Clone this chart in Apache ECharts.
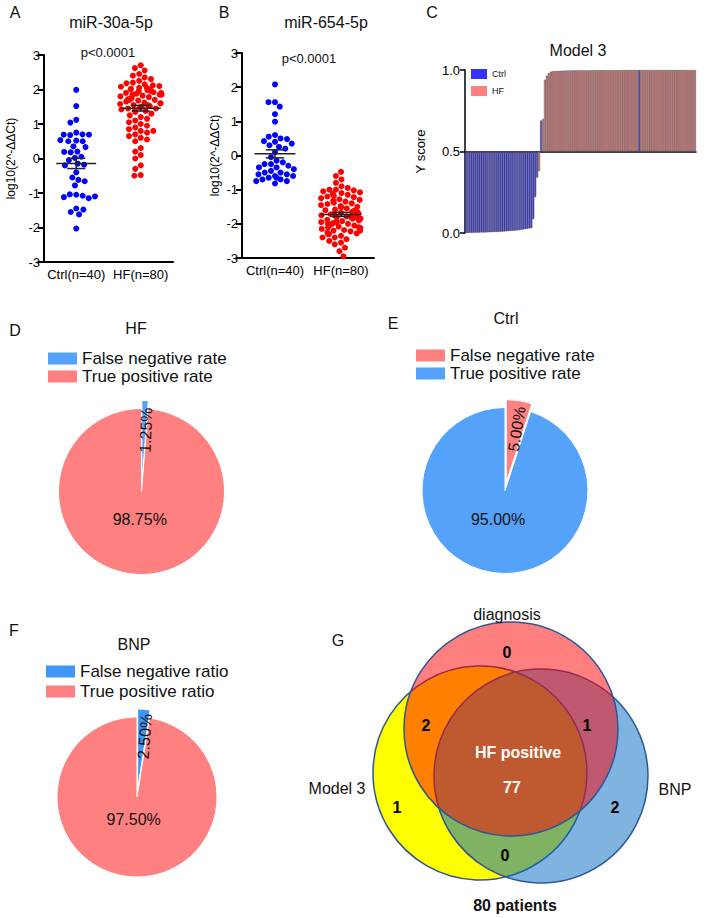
<!DOCTYPE html>
<html>
<head>
<meta charset="utf-8">
<script src="https://cdn.jsdelivr.net/npm/echarts@6/dist/echarts.min.js"></script>
<style>
html, body { margin: 0; padding: 0; background: #fff; }
#main { width: 709px; height: 918px; }
</style>
</head>
<body>
<div id="main"></div>
<script>
var FONT = '"Liberation Sans", Arial, sans-serif';

// ---- panel A / B : dot plots ----
var groups = ['Ctrl(n=40)', 'HF(n=80)'];
var mir30Ctrl = [1.99, 1.52, 1.12, 1.04, 0.75, 0.68, 0.70, 0.69, 0.69, 0.52,
  0.50, 0.50, 0.53, 0.35, 0.33, 0.20, 0.18, 0.19, 0.05, 0.02,
  -0.05, -0.15, -0.18, -0.20, -0.40, -0.55, -0.62, -0.66, -0.78, -1.05,
  -1.04, -1.08, -1.12, -1.15, -1.10, -1.45, -1.55, -1.62, -1.48, -2.03];
var mir30HF = [2.70, 2.62, 2.55, 2.45, 2.40, 2.35, 2.30, 2.25, 2.20, 2.18,
  2.15, 2.12, 2.10, 2.08, 2.05, 2.05, 2.02, 2.00, 1.98, 1.95,
  1.92, 1.90, 1.88, 1.85, 1.85, 1.82, 1.80, 1.78, 1.75, 1.72,
  1.70, 1.68, 1.65, 1.62, 1.60, 1.58, 1.55, 1.52, 1.50, 1.48,
  1.45, 1.45, 1.42, 1.40, 1.38, 1.35, 1.30, 1.25, 1.20, 1.15,
  1.10, 1.05, 1.00, 0.95, 0.90, 0.85, 0.80, 0.75, 0.70, 0.65,
  0.60, 0.55, 0.50, 1.85, 1.75, 1.95, 0.30, 0.20, 0.10, 0.00,
  1.55, -0.20, -0.30, 0.80, 1.60, 1.70, -0.48, -0.50, 1.90, 2.00];
var mir654Ctrl = [2.08, 1.56, 1.56, 1.43, 1.21, 0.99, 0.60, 0.55, 0.50, 0.48,
  0.42, 0.40, 0.35, 0.30, 0.25, 0.20, 0.10, -0.05, -0.15, -0.20,
  -0.25, -0.25, -0.30, -0.35, -0.35, -0.40, -0.45, -0.50, -0.50, -0.55,
  -0.55, -0.60, -0.60, -0.65, -0.65, -0.70, -0.70, -0.75, -0.75, -0.82];
var mir654HF = [-0.48, -0.60, -0.70, -0.80, -0.90, -0.95, -1.00, -1.00, -1.02, -1.05,
  -1.08, -1.10, -1.12, -1.15, -1.18, -1.20, -1.22, -1.25, -1.28, -1.30,
  -1.32, -1.35, -1.38, -1.40, -1.42, -1.45, -1.48, -1.50, -1.52, -1.55,
  -1.58, -1.60, -1.62, -1.65, -1.68, -1.70, -1.72, -1.75, -1.75, -1.78,
  -1.80, -1.80, -1.82, -1.85, -1.88, -1.90, -1.92, -1.95, -1.98, -2.00,
  -2.02, -2.05, -2.08, -2.10, -2.12, -2.15, -2.18, -2.20, -2.22, -2.25,
  -2.28, -2.30, -2.35, -2.40, -2.45, -2.50, -2.55, -2.60, -2.70, -2.80,
  -2.95, -2.00, -2.10, -2.30, -2.20, -2.40, -1.65, -1.75, -1.85, -1.95];

// ---- panel C : Model 3 Y score, sorted ----
var model3Score = [0.000, 0.000, 0.001, 0.001, 0.001, 0.002, 0.002, 0.002, 0.003, 0.003,
  0.003, 0.004, 0.004, 0.005, 0.005, 0.006, 0.006, 0.007, 0.008, 0.008,
  0.009, 0.010, 0.011, 0.012, 0.013, 0.014, 0.015, 0.016, 0.018, 0.020,
  0.022, 0.024, 0.026, 0.028, 0.030, 0.085, 0.220, 0.340, 0.380, 0.690,
  0.700, 0.940, 0.965, 0.980, 0.990, 0.992, 0.993, 0.994, 0.995, 0.995,
  0.996, 0.996, 0.997, 0.997, 0.997, 0.998, 0.998, 0.998, 0.998, 0.998,
  0.998, 0.998, 0.998, 0.998, 0.998, 0.999, 0.999, 0.999, 0.999, 0.999,
  0.999, 0.999, 0.999, 0.999, 0.999, 0.999, 0.999, 0.999, 0.999, 0.999,
  1.000, 1.000, 1.000, 1.000, 1.000, 1.000, 1.000, 1.000, 1.000, 1.000,
  1.000, 1.000, 1.000, 1.000, 1.000, 1.000, 1.000, 1.000, 1.000, 1.000,
  1.000, 1.000, 1.000, 1.000, 1.000, 1.000, 1.000, 1.000, 1.000, 1.000,
  1.000, 1.000, 1.000, 1.000, 1.000, 1.000, 1.000, 1.000, 1.000, 1.000];
// C = Ctrl sample, H = HF sample, in the same order as model3Score
var model3Group = ('C'.repeat(38) + 'HC' + 'H'.repeat(50) + 'C' + 'H'.repeat(29)).split('');

// ---- panels D / E / F : pies ----
var hfNames = ['False negative rate', 'True positive rate'];
var hfRates = [1.25, 98.75];
var ctrlRates = [5.00, 95.00];
var bnpNames = ['False negative ratio', 'True positive ratio'];
var bnpRates = [2.50, 97.50];

// ---- panel G : Venn ----
var vennSets = ['Model 3', 'BNP', 'diagnosis'];
var vennCx = [120, 181, 151];
var vennCy = [163, 166, 119];
var vennR = [107, 107, 107];
var vennFill = ['rgb(255,255,0)', 'rgba(0,104,194,0.5)', 'rgba(255,0,0,0.5)'];
var vennLabels = ['0', '2', '1', 'HF positive', '77', '1', '2', '0'];
var vennLabelPos = [[147, 42], [66, 115], [227, 115], [158, 142], [152, 177], [37, 197], [255, 197], [145, 245]];
var vennLabelColor = ['#000', '#000', '#000', '#fff', '#fff', '#000', '#000', '#000'];

var blue = '#55a2fb', salmon = '#ff8080';

function meanSem(arr) {
  var n = arr.length, m = 0, s = 0;
  arr.forEach(function (v) { m += v; });
  m /= n;
  arr.forEach(function (v) { s += (v - m) * (v - m); });
  return [m, Math.sqrt(s / (n - 1)) / Math.sqrt(n)];
}

function renderMeanSem(params, api) {
  var x = api.value(0), m = api.value(1), e = api.value(2);
  var c = api.coord([x, m]);
  var hi = api.coord([x, m + e]);
  var lo = api.coord([x, m - e]);
  var band = api.size([1, 0])[0];
  var mw = band * 0.31, cw = band * 0.14;
  var st = { stroke: '#222', lineWidth: 1.5 };
  return {
    type: 'group',
    children: [
      { type: 'line', shape: { x1: c[0] - mw, y1: c[1], x2: c[0] + mw, y2: c[1] }, style: st },
      { type: 'line', shape: { x1: c[0], y1: hi[1], x2: c[0], y2: lo[1] }, style: st },
      { type: 'line', shape: { x1: c[0] - cw, y1: hi[1], x2: c[0] + cw, y2: hi[1] }, style: st },
      { type: 'line', shape: { x1: c[0] - cw, y1: lo[1], x2: c[0] + cw, y2: lo[1] }, style: st }
    ]
  };
}

function dotAxisX(gi) {
  return {
    type: 'category', gridIndex: gi, data: groups,
    jitter: 42, jitterOverlap: false, jitterMargin: 0.5,
    axisLine: { onZero: false, lineStyle: { color: '#000', width: 2 } },
    axisTick: { alignWithLabel: true, length: 6, lineStyle: { color: '#000', width: 2 } },
    axisLabel: { color: '#000', fontSize: 13, fontFamily: FONT, margin: 6, interval: 0 }
  };
}
function dotAxisY(gi, gap) {
  return {
    type: 'value', gridIndex: gi, min: -3, max: 3, interval: 1,
    name: 'log10(2^-ΔΔCt)', nameLocation: 'middle', nameGap: gap,
    nameTextStyle: { color: '#000', fontSize: 12, fontFamily: FONT },
    axisLine: { show: true, onZero: false, lineStyle: { color: '#000', width: 2 } },
    axisTick: { show: true, length: 6, lineStyle: { color: '#000', width: 2 } },
    axisLabel: { color: '#000', fontSize: 13, fontFamily: FONT, margin: 4 },
    splitLine: { show: false }
  };
}
function dotSeries(axis, ctrl, hf) {
  var ms = [meanSem(ctrl), meanSem(hf)];
  return [
    { type: 'scatter', xAxisIndex: axis, yAxisIndex: axis, symbolSize: 6,
      itemStyle: { color: '#0000ff', opacity: 1 }, silent: true,
      data: ctrl.map(function (v) { return [0, v]; }) },
    { type: 'scatter', xAxisIndex: axis, yAxisIndex: axis, symbolSize: 6,
      itemStyle: { color: '#ff0000', opacity: 1 }, silent: true,
      data: hf.map(function (v) { return [1, v]; }) },
    { type: 'custom', xAxisIndex: axis, yAxisIndex: axis, z: 5, silent: true,
      renderItem: renderMeanSem,
      data: [[0, ms[0][0], ms[0][1]], [1, ms[1][0], ms[1][1]]] }
  ];
}

// smallShift: nudge of the thin slice's radial label (in the label's rotated frame)
function pieSeries(center, r, names, rates, colors, smallShift, bigOffset) {
  return {
    type: 'pie', center: center, radius: r, startAngle: 90, clockwise: true,
    selectedMode: 'single', selectedOffset: 8, avoidLabelOverlap: false, silent: true,
    itemStyle: { borderColor: '#fff', borderWidth: 1 },
    labelLine: { show: false },
    label: {
      show: true, position: 'inside', color: '#111', fontSize: 16, fontFamily: FONT,
      formatter: function (p) { return p.value.toFixed(2) + '%'; }
    },
    labelLayout: function (p) {
      return p.dataIndex === 0 ? { dx: smallShift[0], dy: smallShift[1] } : {};
    },
    data: [
      { name: names[0], value: rates[0], selected: true, itemStyle: { color: colors[0] },
        label: { rotate: 'radial' } },
      { name: names[1], value: rates[1], itemStyle: { color: colors[1] },
        label: { rotate: 0, offset: bigOffset } }
    ]
  };
}

function pieLegend(left, top, gap, names, colors) {
  return {
    orient: 'vertical', left: left, top: top, padding: 0, itemWidth: 29, itemHeight: 12, itemGap: gap,
    selectedMode: false, icon: 'rect',
    textStyle: { color: '#111', fontSize: 17, fontFamily: FONT },
    data: [
      { name: names[0], itemStyle: { color: colors[0], borderWidth: 0 } },
      { name: names[1], itemStyle: { color: colors[1], borderWidth: 0 } }
    ]
  };
}

function txt(x, y, s, size, bold, color) {
  return {
    type: 'text', x: x, y: y, silent: true, z: 100,
    style: {
      text: s, fill: color || '#111', align: 'center', verticalAlign: 'middle',
      font: (bold ? 'bold ' : '') + size + 'px ' + FONT
    }
  };
}

var myChart = echarts.init(document.getElementById('main'), null, { renderer: 'svg' });

var option = {
  animation: false,
  backgroundColor: '#fff',
  textStyle: { fontFamily: FONT },
  grid: [
    { left: 44, top: 55, width: 129, height: 207 },
    { left: 242, top: 53, width: 132, height: 205 },
    { left: 465, top: 70, width: 231, height: 163 },
    { left: 360, top: 610, width: 300, height: 300 }
  ],
  xAxis: [
    dotAxisX(0),
    dotAxisX(1),
    { type: 'category', gridIndex: 2, data: model3Score.map(function (v, i) { return i; }),
      axisLine: { onZero: true, lineStyle: { color: '#000', width: 1.5 } },
      axisTick: { show: false }, axisLabel: { show: false } },
    { type: 'value', gridIndex: 3, min: 0, max: 300, show: false }
  ],
  yAxis: [
    dotAxisY(0, 27),
    dotAxisY(1, 21),
    { type: 'value', gridIndex: 2, min: -0.5, max: 0.5, interval: 0.5,
      name: 'Y score', nameLocation: 'middle', nameGap: 38,
      nameTextStyle: { color: '#000', fontSize: 13, fontFamily: FONT },
      axisLine: { show: true, onZero: false, lineStyle: { color: '#000', width: 1.5 } },
      axisTick: { show: true, length: 5, lineStyle: { color: '#000', width: 1.5 } },
      axisLabel: { color: '#000', fontSize: 13, fontFamily: FONT, margin: 5,
        formatter: function (v) { return (v + 0.5).toFixed(1); } },
      splitLine: { show: false } },
    { type: 'value', gridIndex: 3, min: 0, max: 300, inverse: true, show: false }
  ],
  legend: [
    { orient: 'vertical', left: 471, top: 69, padding: 0, itemWidth: 16, itemHeight: 10, itemGap: 7,
      selectedMode: false, icon: 'rect',
      textStyle: { color: '#111', fontSize: 9, fontFamily: FONT },
      data: [{ name: 'Ctrl', itemStyle: { color: '#3333ff', borderWidth: 0 } },
             { name: 'HF', itemStyle: { color: '#ff8080', borderWidth: 0 } }] },
    pieLegend(48, 350, 1, hfNames, [blue, salmon]),
    pieLegend(416, 347, 1, hfNames, [salmon, blue]),
    pieLegend(46, 663, 3, bnpNames, ['#3f96f6', salmon])
  ],
  series: [].concat(
    dotSeries(0, mir30Ctrl, mir30HF),
    dotSeries(1, mir654Ctrl, mir654HF),
    [
      { name: 'Ctrl', type: 'bar', xAxisIndex: 2, yAxisIndex: 2, barGap: '-100%', barCategoryGap: '0%',
        silent: true,
        itemStyle: { color: '#2a2aff', borderColor: '#555', borderWidth: 0.6 },
        data: model3Score.map(function (v, i) { return model3Group[i] === 'C' ? v - 0.5 : '-'; }) },
      { name: 'HF', type: 'bar', xAxisIndex: 2, yAxisIndex: 2, barCategoryGap: '0%',
        silent: true,
        itemStyle: { color: '#ff7878', borderColor: '#555', borderWidth: 0.6 },
        data: model3Score.map(function (v, i) { return model3Group[i] === 'H' ? v - 0.5 : '-'; }) },
      pieSeries([141.5, 491.5], 83, hfNames, hfRates, [blue, salmon], [9, 2], [0, -16]),
      pieSeries([505, 490.5], 83, hfNames, ctrlRates, [salmon, blue], [10, 2], [0, -15]),
      pieSeries([137, 797], 80, bnpNames, bnpRates, ['#3f96f6', salmon], [10, 3], [0, -20]),
      { type: 'custom', xAxisIndex: 3, yAxisIndex: 3, silent: true,
        renderItem: function (params, api) {
          var c = api.coord([api.value(0), api.value(1)]);
          var r = api.size([api.value(2), 0])[0];
          return { type: 'circle', shape: { cx: c[0], cy: c[1], r: r },
            style: { fill: vennFill[params.dataIndex], stroke: '#2f5597', lineWidth: 1.5 } };
        },
        data: vennSets.map(function (s, i) { return [vennCx[i], vennCy[i], vennR[i]]; }) },
      { type: 'custom', xAxisIndex: 3, yAxisIndex: 3, silent: true, z: 5,
        renderItem: function (params, api) {
          var p = api.coord([api.value(0), api.value(1)]);
          return { type: 'text', x: p[0], y: p[1],
            style: { text: vennLabels[params.dataIndex], fill: vennLabelColor[params.dataIndex],
              align: 'center', verticalAlign: 'middle', font: 'bold 16px ' + FONT } };
        },
        data: vennLabels.map(function (c, i) { return [vennLabelPos[i][0], vennLabelPos[i][1]]; }) }
    ]
  ),
  graphic: { elements: [
    txt(15, 12, 'A', 16), txt(111, 22, 'miR-30a-5p', 16), txt(108, 52, 'p<0.0001', 13),
    txt(224, 12, 'B', 16), txt(326, 22, 'miR-654-5p', 16), txt(309, 58, 'p<0.0001', 13),
    txt(432, 12, 'C', 16), txt(578, 50, 'Model 3', 16),
    txt(15, 330, 'D', 16), txt(136, 328, 'HF', 16),
    txt(393, 323, 'E', 16), txt(506, 318, 'Ctrl', 16),
    txt(14, 630, 'F', 16), txt(134, 644, 'BNP', 16),
    txt(338, 640, 'G', 16), txt(507, 614, 'diagnosis', 16),
    txt(337, 788, 'Model 3', 16), txt(675, 789, 'BNP', 16),
    txt(515, 905, '80 patients', 16, true)
  ] }
};

myChart.setOption(option);
</script>
</body>
</html>
